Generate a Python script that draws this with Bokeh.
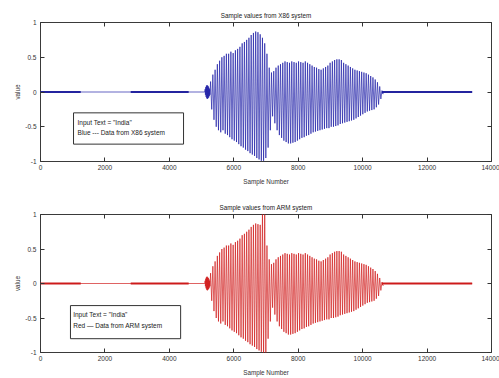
from bokeh.plotting import figure
from bokeh.models import LinearAxis, FixedTicker, BoxAnnotation, Label, Range1d
from bokeh.layouts import column
from bokeh.embed import file_html
from bokeh.resources import INLINE

FONT = "Liberation Sans"

x_ticks = [0, 2000, 4000, 6000, 8000, 10000, 12000, 14000]
y_ticks = [-1, -0.5, 0, 0.5, 1]
y_tick_labels = ["-1", "-0.5", "0", "0.5", "1"]

# quiet parts (near zero) of the recording
noise_start = [0, 2800, 10600]
noise_end = [1250, 4600, 13400]
silence_x = [0, 5100]
tail_x = [10600, 13400]

# onset burst
burst_x = [5110, 5130, 5150, 5170, 5190, 5210, 5230, 5250]
burst_amp = [0.04, 0.07, 0.09, 0.10, 0.09, 0.08, 0.06, 0.04]

# voiced part: one entry per oscillation cycle (start sample, peak, trough)
cycle_x = [5280, 5350, 5420, 5490, 5560, 5630, 5700, 5770, 5840, 5910,
           5980, 6050, 6120, 6190, 6260, 6330, 6400, 6470, 6540, 6610,
           6680, 6750, 6820, 6890, 6960, 7030, 7100, 7170, 7240, 7310,
           7380, 7450, 7520, 7590, 7660, 7730, 7800, 7870, 7940, 8010,
           8080, 8150, 8220, 8290, 8360, 8430, 8500, 8570, 8640, 8710,
           8780, 8850, 8920, 8990, 9060, 9130, 9200, 9270, 9340, 9410,
           9480, 9550, 9620, 9690, 9760, 9830, 9900, 9970, 10040, 10110,
           10180, 10250, 10320, 10390, 10460, 10530, 10600]

x86_hi = [0.15, 0.25, 0.32, 0.40, 0.45, 0.50, 0.52, 0.55, 0.55, 0.58,
          0.56, 0.60, 0.62, 0.65, 0.70, 0.72, 0.75, 0.78, 0.82, 0.85,
          0.87, 0.86, 0.83, 0.78, 0.70, 0.55, 0.35, 0.28, 0.30, 0.35,
          0.38, 0.40, 0.42, 0.44, 0.43, 0.42, 0.44, 0.43, 0.42, 0.44,
          0.43, 0.42, 0.44, 0.42, 0.40, 0.38, 0.36, 0.35, 0.33, 0.32,
          0.34, 0.36, 0.38, 0.42, 0.44, 0.46, 0.47, 0.47, 0.46, 0.42,
          0.40, 0.38, 0.36, 0.34, 0.32, 0.31, 0.30, 0.29, 0.28, 0.27,
          0.25, 0.23, 0.21, 0.18, 0.14, 0.08, 0.02]
x86_lo = [-0.25, -0.40, -0.50, -0.55, -0.58, -0.55, -0.60, -0.62, -0.65, -0.68,
          -0.70, -0.72, -0.75, -0.78, -0.80, -0.83, -0.85, -0.88, -0.90, -0.92,
          -0.95, -0.97, -0.99, -0.99, -0.95, -0.80, -0.55, -0.35, -0.45, -0.55,
          -0.62, -0.66, -0.70, -0.72, -0.74, -0.74, -0.73, -0.72, -0.70, -0.68,
          -0.66, -0.65, -0.63, -0.62, -0.60, -0.58, -0.57, -0.56, -0.55, -0.54,
          -0.53, -0.52, -0.52, -0.50, -0.50, -0.49, -0.48, -0.46, -0.45, -0.44,
          -0.43, -0.42, -0.41, -0.40, -0.38, -0.36, -0.34, -0.32, -0.30, -0.28,
          -0.27, -0.26, -0.25, -0.22, -0.18, -0.10, -0.03]

arm_hi = [0.15, 0.25, 0.32, 0.40, 0.45, 0.50, 0.52, 0.55, 0.55, 0.58,
          0.56, 0.60, 0.62, 0.65, 0.70, 0.72, 0.75, 0.78, 0.82, 0.85,
          0.87, 0.86, 0.85, 1.05, 1.05, 0.55, 0.35, 0.28, 0.30, 0.35,
          0.38, 0.40, 0.42, 0.44, 0.43, 0.42, 0.44, 0.43, 0.42, 0.44,
          0.43, 0.42, 0.44, 0.42, 0.40, 0.38, 0.36, 0.35, 0.33, 0.32,
          0.34, 0.36, 0.38, 0.42, 0.44, 0.46, 0.47, 0.47, 0.46, 0.42,
          0.40, 0.38, 0.36, 0.34, 0.32, 0.31, 0.30, 0.29, 0.28, 0.27,
          0.25, 0.23, 0.21, 0.18, 0.14, 0.08, 0.02]
arm_lo = [-0.25, -0.40, -0.50, -0.55, -0.58, -0.55, -0.60, -0.62, -0.65, -0.68,
          -0.70, -0.72, -0.75, -0.78, -0.80, -0.83, -0.85, -0.88, -0.90, -0.92,
          -0.95, -0.97, -0.99, -1.05, -1.05, -0.80, -0.55, -0.35, -0.45, -0.55,
          -0.62, -0.66, -0.70, -0.72, -0.74, -0.74, -0.73, -0.72, -0.70, -0.68,
          -0.66, -0.65, -0.63, -0.62, -0.60, -0.58, -0.57, -0.56, -0.55, -0.54,
          -0.53, -0.52, -0.52, -0.50, -0.50, -0.49, -0.48, -0.46, -0.45, -0.44,
          -0.43, -0.42, -0.41, -0.40, -0.38, -0.36, -0.34, -0.32, -0.30, -0.28,
          -0.27, -0.26, -0.25, -0.22, -0.18, -0.10, -0.03]


def build_wave(hi, lo):
    xs = list(silence_x)
    ys = [0, 0]
    for bx, a in zip(burst_x, burst_amp):
        xs += [bx, bx + 10]
        ys += [a, -a]
    for cx, h, l in zip(cycle_x, hi, lo):
        xs += [cx, cx + 35]
        ys += [h, l]
    xs += tail_x
    ys += [0, 0]
    return xs, ys


def tick_only_axis(ticks):
    return LinearAxis(ticker=FixedTicker(ticks=ticks), major_label_text_font_size="1px",
                      major_label_text_color=None, major_label_text_alpha=0,
                      major_tick_in=4, major_tick_out=0, minor_tick_line_color=None,
                      axis_line_color=None, major_label_standoff=0,
                      major_tick_line_color="#333333")


def style_fig(p):
    p.background_fill_color = "white"
    p.border_fill_color = "white"
    p.outline_line_color = "#3a3a3a"
    p.outline_line_width = 1
    p.outline_line_alpha = 1
    p.grid.visible = False
    p.title.text_font = FONT
    p.title.text_font_size = "6.3px"
    p.title.text_font_style = "normal"
    p.title.text_color = "#222222"
    p.title.align = "center"
    p.title.standoff = 8

    p.xaxis.ticker = FixedTicker(ticks=x_ticks)
    p.yaxis.ticker = FixedTicker(ticks=y_ticks)
    p.yaxis.major_label_overrides = {float(t): s for t, s in zip(y_ticks, y_tick_labels)}
    for ax in (p.xaxis, p.yaxis):
        ax.major_tick_in = 4
        ax.major_tick_out = 0
        ax.minor_tick_line_color = None
        ax.axis_line_color = None
        ax.major_tick_line_color = "#333333"
        ax.major_label_text_font = FONT
        ax.major_label_text_font_size = "6.5px"
        ax.major_label_text_color = "#333333"
        ax.axis_label_text_font = FONT
        ax.axis_label_text_font_size = "6.3px"
        ax.axis_label_text_font_style = "normal"
        ax.axis_label_text_color = "#333333"
    p.xaxis.major_label_standoff = 3
    p.xaxis.axis_label_standoff = 5
    p.yaxis.major_label_standoff = 4
    p.yaxis.axis_label_standoff = 1

    p.add_layout(tick_only_axis(x_ticks), "above")
    p.add_layout(tick_only_axis(y_ticks), "right")


def make_fig(title, hi, lo, color, thick_color, line1, line2, box, text_x, text_y,
             height, border_top, border_bottom):
    p = figure(width=499, height=height, output_backend="svg", toolbar_location=None,
               x_range=Range1d(0, 14000), y_range=Range1d(-1, 1),
               min_border_left=40, min_border_right=8,
               min_border_top=border_top, min_border_bottom=border_bottom,
               title=title, x_axis_label="Sample Number", y_axis_label="value")
    style_fig(p)
    p.segment(x0=noise_start, y0=[0] * len(noise_start), x1=noise_end,
              y1=[0] * len(noise_end), line_color=thick_color, line_width=2.2)
    xs, ys = build_wave(hi, lo)
    p.line(xs, ys, line_color=color, line_width=0.8, line_alpha=0.85)
    p.add_layout(BoxAnnotation(left=box[0], right=box[1], top=box[2], bottom=box[3],
                               fill_color="white", fill_alpha=1,
                               line_color="#333333", line_width=1, line_alpha=1))
    for txt, ty in zip([line1, line2], text_y):
        p.add_layout(Label(x=text_x, y=ty, text=txt, text_font=FONT,
                           text_font_size="6.5px", text_color="#222222",
                           text_baseline="middle"))
    return p


p1 = make_fig("Sample values from X86 system", x86_hi, x86_lo, "#1c1ca6", "#2a2a9c",
              'Input Text = "India"', "Blue --- Data from X86 system",
              (1025, 4440, -0.30, -0.75), 1150, [-0.435, -0.58],
              190, 22, 29)
p2 = make_fig("Sample values from ARM system", arm_hi, arm_lo, "#d01818", "#cc2020",
              'Input Text = "India"', "Red \u2014 Data from ARM system",
              (930, 4350, -0.32, -0.80), 1015, [-0.45, -0.61],
              188, 24, 25)

layout = column(p1, p2, spacing=0)
open("out.html", "w").write(file_html(layout, INLINE))
